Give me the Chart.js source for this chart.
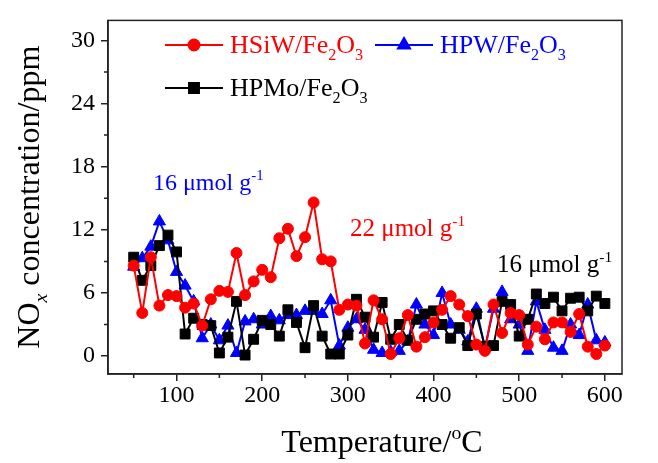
<!DOCTYPE html>
<html>
<head>
<meta charset="utf-8">
<script src="https://cdn.jsdelivr.net/npm/chart.js@4.4.1/dist/chart.umd.min.js"></script>
<style>
  html, body { margin: 0; padding: 0; background: #fff; }
  #wrap { width: 658px; height: 463px; }
</style>
</head>
<body>
<div id="wrap"><canvas id="chart" width="658" height="463"></canvas></div>
<script>
// temperature points (°C)
const temps = [50,60,70,80,90,100,110,120,130,140,150,160,170,180,190,200,210,220,230,240,
  250,260,270,280,290,300,310,320,330,340,350,360,370,380,390,400,410,420,430,440,
  450,460,470,480,490,500,510,520,530,540,550,560,570,580,590,600];

// NOx concentration (ppm)
const hsiw = [8.6,4.1,9.4,4.8,5.8,5.7,4.6,5.0,2.9,5.4,6.2,6.1,9.8,5.8,7.1,8.2,7.5,11.2,12.1,9.5,
  11.3,14.6,9.2,9.0,4.4,4.9,4.8,1.2,5.3,3.5,0.2,1.7,3.9,0.9,1.8,3.2,4.4,5.7,4.9,3.8,
  1.1,0.5,4.9,2.2,4.1,3.9,1.1,2.8,1.6,3.2,3.2,2.3,4.0,0.9,0.2,1.0];
const hpw = [8.5,9.3,10.4,12.8,11.0,8.0,6.7,5.2,1.7,3.0,1.5,2.9,0.3,3.3,3.5,3.0,3.8,3.4,3.9,3.9,
  4.3,4.3,4.0,5.3,1.0,2.7,3.5,2.5,0.6,0.3,0.4,0.5,1.4,4.9,3.0,2.0,6.0,3.0,2.5,1.4,
  4.5,0.8,4.5,6.1,3.5,3.0,0.5,5.2,2.5,0.8,0.5,3.0,2.0,4.9,1.5,1.3];
const hpmo = [9.4,7.2,8.6,10.5,11.5,9.9,2.1,3.6,3.0,2.9,0.3,1.8,5.2,0.1,1.6,3.4,3.0,1.9,4.4,3.2,
  0.8,4.8,1.9,0.2,0.2,2.0,5.4,3.7,1.8,5.1,1.6,3.0,1.5,3.5,4.0,4.3,3.0,1.7,2.7,1.0,
  4.0,0.9,1.0,5.2,4.9,1.9,3.5,5.9,5.0,5.6,4.3,5.5,5.6,4.3,5.7,5.0];

const xTicks = [50,100,150,200,250,300,350,400,450,500,550,600];
const yTicks = [0,3,6,9,12,15,18,21,24,27,30];

const FONT = '"Liberation Serif", "Times New Roman", serif';

function pts(arr) {
  return temps.map((t, i) => ({ x: t, y: arr[i] }));
}

// draw text with sub/superscripts, returns width
function rich(ctx, x, y, parts, size, color, measureOnly) {
  let cx = x;
  ctx.fillStyle = color;
  ctx.textBaseline = 'alphabetic';
  ctx.textAlign = 'left';
  parts.forEach(p => {
    const txt = typeof p === 'string' ? p : p[0];
    const kind = typeof p === 'string' ? 'n' : p[1];
    let fs = size, dy = 0, style = '';
    if (kind === 'sub') { fs = size * 0.62; dy = size * 0.25; }
    if (kind === 'isub') { fs = size * 0.62; dy = size * 0.25; style = 'italic '; }
    if (kind === 'sup') { fs = size * 0.62; dy = -size * 0.42; }
    ctx.font = style + fs + 'px ' + FONT;
    if (!measureOnly) ctx.fillText(txt, cx, y + dy);
    cx += ctx.measureText(txt).width;
  });
  return cx - x;
}

const decorPlugin = {
  id: 'decor',
  afterDraw(chart) {
    const ctx = chart.ctx;
    const a = chart.chartArea;
    const xs = chart.scales.x, ys = chart.scales.y;
    ctx.save();

    // frame
    ctx.strokeStyle = '#222';
    ctx.lineWidth = 1.5;
    ctx.strokeRect(a.left, a.top, a.right - a.left, a.bottom - a.top);

    // minor ticks
    ctx.beginPath();
    xTicks.filter(v => v % 100 !== 0).forEach(v => {
      const px = xs.getPixelForValue(v);
      ctx.moveTo(px, a.bottom); ctx.lineTo(px, a.bottom + 4);
    });
    yTicks.filter(v => v % 6 !== 0).forEach(v => {
      const py = ys.getPixelForValue(v);
      ctx.moveTo(a.left, py); ctx.lineTo(a.left - 4, py);
    });
    ctx.stroke();

    // legend
    const leg = [
      { x: 165, y: 45, color: '#ff0000', style: 'circle', r: 5.5, parts: ['HSiW/Fe', ['2','sub'], 'O', ['3','sub']] },
      { x: 375, y: 45, color: '#0000ff', style: 'triangle', r: 7, parts: ['HPW/Fe', ['2','sub'], 'O', ['3','sub']] },
      { x: 165, y: 88, color: '#000000', style: 'rect', r: 7, parts: ['HPMo/Fe', ['2','sub'], 'O', ['3','sub']] }
    ];
    leg.forEach(l => {
      ctx.strokeStyle = l.color;
      ctx.fillStyle = l.color;
      ctx.lineWidth = 2;
      ctx.beginPath();
      ctx.moveTo(l.x, l.y); ctx.lineTo(l.x + 58, l.y);
      ctx.stroke();
      Chart.helpers.drawPoint(ctx, { pointStyle: l.style, radius: l.r, borderWidth: 1 }, l.x + 29, l.y);
      rich(ctx, l.x + 65, l.y + 8, l.parts, 26, l.color);
    });

    // loading annotations
    rich(ctx, 153, 190, ['16 \u03bcmol g', ['-1','sup']], 24, '#0000ff');
    rich(ctx, 350, 236, ['22 \u03bcmol g', ['-1','sup']], 25, '#ff0000');
    rich(ctx, 497, 272, ['16 \u03bcmol g', ['-1','sup']], 25, '#000000');

    // x title
    const xParts = ['Temperature/', ['o','sup'], 'C'];
    const xw = rich(ctx, 0, 0, xParts, 32, '#000', true);
    rich(ctx, 382 - xw / 2, 452, xParts, 32, '#000');

    // y title
    const yParts = ['NO', ['x','isub'], ' concentration/ppm'];
    const yw = rich(ctx, 0, 0, yParts, 32, '#000', true);
    ctx.translate(39, (a.top + a.bottom) / 2);
    ctx.rotate(-Math.PI / 2);
    rich(ctx, -yw / 2, 0, yParts, 32, '#000');

    ctx.restore();
  }
};

const ctx = document.getElementById('chart').getContext('2d');
new Chart(ctx, {
  type: 'line',
  data: {
    datasets: [
      { label: 'HSiW/Fe2O3', data: pts(hsiw), borderColor: '#ff0000', backgroundColor: '#ff0000',
        pointStyle: 'circle', pointRadius: 5.5, borderWidth: 2, pointBorderWidth: 1, order: 0 },
      { label: 'HPW/Fe2O3', data: pts(hpw), borderColor: '#0000ff', backgroundColor: '#0000ff',
        pointStyle: 'triangle', pointRadius: 7, borderWidth: 2, pointBorderWidth: 1, order: 2 },
      { label: 'HPMo/Fe2O3', data: pts(hpmo), borderColor: '#000000', backgroundColor: '#000000',
        pointStyle: 'rect', pointRadius: 7, borderWidth: 2, pointBorderWidth: 1, order: 1 }
    ]
  },
  options: {
    responsive: false,
    devicePixelRatio: 1,
    animation: false,
    layout: { padding: { top: 14, right: 36, left: 0, bottom: 0 } },
    plugins: { legend: { display: false }, tooltip: { enabled: false } },
    scales: {
      x: {
        type: 'linear', min: 20, max: 620,
        afterBuildTicks: s => { s.ticks = xTicks.map(v => ({ value: v })); },
        afterFit: s => { s.height = 89; },
        ticks: {
          autoSkip: false, maxRotation: 0, padding: 0, color: '#000',
          font: { family: FONT, size: 24 },
          callback: v => (v % 100 === 0 ? v : '')
        },
        grid: {
          drawOnChartArea: false, tickLength: 7, lineWidth: 1.5,
          tickColor: c => (c.tick && c.tick.value % 100 === 0 ? '#222' : 'rgba(0,0,0,0)')
        },
        border: { color: '#222', width: 1.5 }
      },
      y: {
        type: 'linear', min: -1.7, max: 31.9,
        afterBuildTicks: s => { s.ticks = yTicks.map(v => ({ value: v })); },
        afterFit: s => { s.width = 108; },
        ticks: {
          autoSkip: false, padding: 6, color: '#000',
          font: { family: FONT, size: 24 },
          callback: v => (v % 6 === 0 ? v : '')
        },
        grid: {
          drawOnChartArea: false, tickLength: 7, lineWidth: 1.5,
          tickColor: c => (c.tick && c.tick.value % 6 === 0 ? '#222' : 'rgba(0,0,0,0)')
        },
        border: { color: '#222', width: 1.5 }
      }
    }
  },
  plugins: [decorPlugin]
});
</script>
</body>
</html>
